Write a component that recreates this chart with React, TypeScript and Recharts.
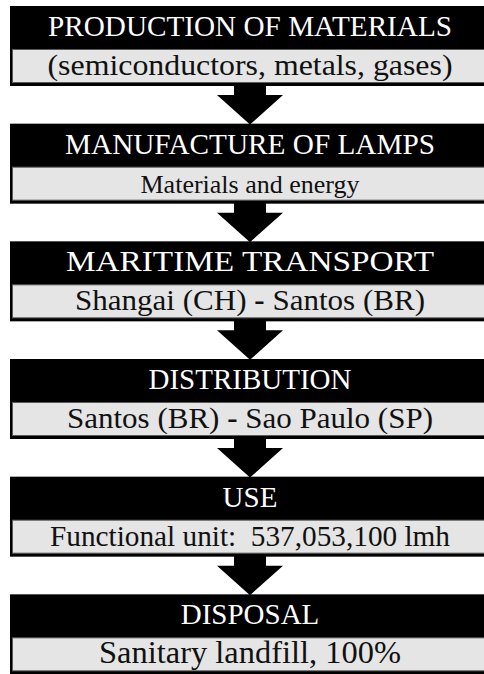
import React from "react";
import { BarChart, Bar, XAxis, YAxis } from "recharts";

// Flow stages (top to bottom)
const stageTitles = [
  "PRODUCTION OF MATERIALS",
  "MANUFACTURE OF LAMPS",
  "MARITIME TRANSPORT",
  "DISTRIBUTION",
  "USE",
  "DISPOSAL",
];
const stageDetails = [
  "(semiconductors, metals, gases)",
  "Materials and energy",
  "Shangai (CH) - Santos (BR)",
  "Santos (BR) - Sao Paulo (SP)",
  "Functional unit:  537,053,100 lmh",
  "Sanitary landfill, 100%",
];
// each stage spans the full width of the flow
const stageSpan = [1, 1, 1, 1, 1, 1];

// text fitting (styles, kept apart from the data)
const titleFit = [404, 370, 368, 0, 0, 0];
const detailFit = [405, 219, 350, 366, 400, 302];
const detailSize = [30, 26, 30, 30, 30, 31];

const data = stageTitles.map((t, i) => ({
  title: t,
  detail: stageDetails[i],
  span: stageSpan[i],
}));

const StageBox = (props: any) => {
  const { x, y, width, height, index, payload } = props;
  const cx = x + width / 2;
  const last = index === data.length - 1;
  const tf = titleFit[index];
  const df = detailFit[index];
  const headCommon: any = {
    x: cx,
    y: y + 30,
    textAnchor: "middle",
    fill: "#fff",
    fontSize: 29,
    fontFamily: "Liberation Serif",
  };
  if (tf) {
    headCommon.textLength = tf;
    headCommon.lengthAdjust = "spacingAndGlyphs";
  }
  const bodyCommon: any = {
    x: cx,
    y: y + 69,
    textAnchor: "middle",
    fill: "#111",
    fontSize: detailSize[index],
    fontFamily: "Liberation Serif",
    textLength: df,
    lengthAdjust: "spacingAndGlyphs",
    xmlSpace: "preserve",
  };
  const detail: string = payload.detail;
  const parts = detail.split(" - ");
  return (
    <g>
      {!last && (
        <path
          d={`M${cx - 16},${y + height - 1} L${cx + 16},${y + height - 1} L${cx + 16},${y + height + 9} L${cx + 33},${y + height + 9} L${cx},${y + height + 38.5} L${cx - 33},${y + height + 9} L${cx - 16},${y + height + 9} Z`}
          fill="#000"
        />
      )}
      <rect x={x} y={y} width={width} height={height} fill="#000" />
      <rect x={x + 2.5} y={y + 43.5} width={width - 5} height={33} fill="#e5e5e5" stroke="#5a5a5a" strokeWidth={1} />
      <text {...headCommon}>{payload.title}</text>
      {parts.length === 2 ? (
        <text {...bodyCommon}>
          {parts[0]} <tspan fontWeight="bold">-</tspan> {parts[1]}
        </text>
      ) : (
        <text {...bodyCommon}>{detail}</text>
      )}
    </g>
  );
};

export default function App() {
  return (
    <div style={{ position: "absolute", left: 0, top: -13 }}>
      <BarChart
        width={494}
        height={706}
        data={data}
        layout="vertical"
        margin={{ top: 0, right: 4, bottom: 0, left: 10 }}
        barSize={80}
      >
        <XAxis type="number" domain={[0, 1]} hide />
        <YAxis type="category" dataKey="title" hide width={0} />
        <Bar dataKey="span" isAnimationActive={false} shape={(p: any) => <StageBox {...p} />} />
      </BarChart>
    </div>
  );
}
